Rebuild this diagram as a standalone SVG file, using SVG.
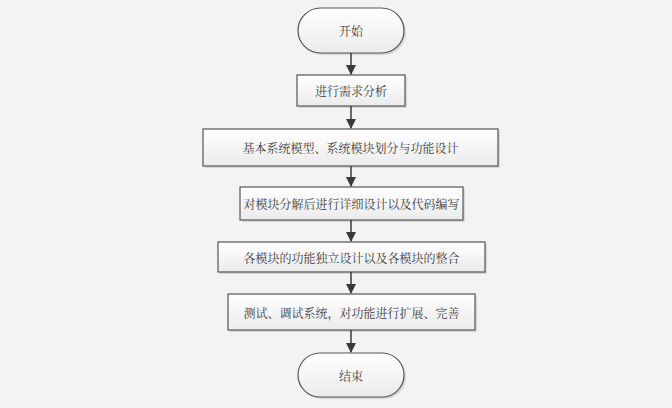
<svg xmlns="http://www.w3.org/2000/svg" width="672" height="408" viewBox="0 0 672 408">
<defs>
<linearGradient id="g" x1="0" y1="0" x2="0" y2="1">
<stop offset="0" stop-color="#ffffff"/>
<stop offset="1" stop-color="#ebebeb"/>
</linearGradient>
<marker id="ah" markerWidth="10" markerHeight="10" refX="9" refY="5" orient="auto" markerUnits="userSpaceOnUse">
<path d="M0,0 L10,5 L0,10 z" fill="#3a3a3a"/>
</marker>
<style>
.s{fill:url(#g);stroke:#555;stroke-width:1.2}
.sh{fill:#d6d6d6}
.t{font-family:"Noto Serif CJK SC","Noto Sans CJK SC",serif;font-size:12px;fill:#3c3c3c;text-anchor:middle;dominant-baseline:central}
.c{stroke:#3a3a3a;stroke-width:1.5;fill:none;marker-end:url(#ah)}
</style>
</defs>
<rect width="672" height="408" fill="#f3f3f3"/>
<g id="start">
<rect class="sh" x="300" y="10" width="106" height="45" rx="22.5"/>
<rect class="s" x="298" y="8" width="106" height="45" rx="22.5"/>
<text class="t" x="351" y="30.5">开始</text>
</g>
<g id="n1">
<rect class="sh" x="299" y="77" width="108" height="31"/>
<rect class="s" x="297" y="75" width="108" height="31"/>
<text class="t" x="351" y="90.5">进行需求分析</text>
</g>
<g id="n2">
<rect class="sh" x="205" y="131" width="295" height="37"/>
<rect class="s" x="203" y="129" width="295" height="37"/>
<text class="t" x="350.5" y="147.5">基本系统模型、系统模块划分与功能设计</text>
</g>
<g id="n3">
<rect class="sh" x="242" y="189" width="223" height="33"/>
<rect class="s" x="240" y="187" width="223" height="33"/>
<text class="t" x="351.5" y="203.5">对模块分解后进行详细设计以及代码编写</text>
</g>
<g id="n4">
<rect class="sh" x="220" y="244" width="267" height="30"/>
<rect class="s" x="218" y="242" width="267" height="30"/>
<text class="t" x="351.5" y="257">各模块的功能独立设计以及各模块的整合</text>
</g>
<g id="n5">
<rect class="sh" x="230" y="296" width="247" height="36"/>
<rect class="s" x="228" y="294" width="247" height="36"/>
<text class="t" x="351.5" y="312">测试、调试系统，对功能进行扩展、完善</text>
</g>
<g id="end">
<rect class="sh" x="300" y="355" width="106" height="44" rx="22"/>
<rect class="s" x="298" y="353" width="106" height="44" rx="22"/>
<text class="t" x="351" y="375">结束</text>
</g>
<g id="connectors">
<line class="c" x1="351" y1="53" x2="351" y2="74"/>
<line class="c" x1="351" y1="106" x2="351" y2="128"/>
<line class="c" x1="351" y1="166" x2="351" y2="186"/>
<line class="c" x1="351" y1="220" x2="351" y2="241"/>
<line class="c" x1="351" y1="272" x2="351" y2="293"/>
<line class="c" x1="351" y1="330" x2="351" y2="352"/>
</g>
</svg>
